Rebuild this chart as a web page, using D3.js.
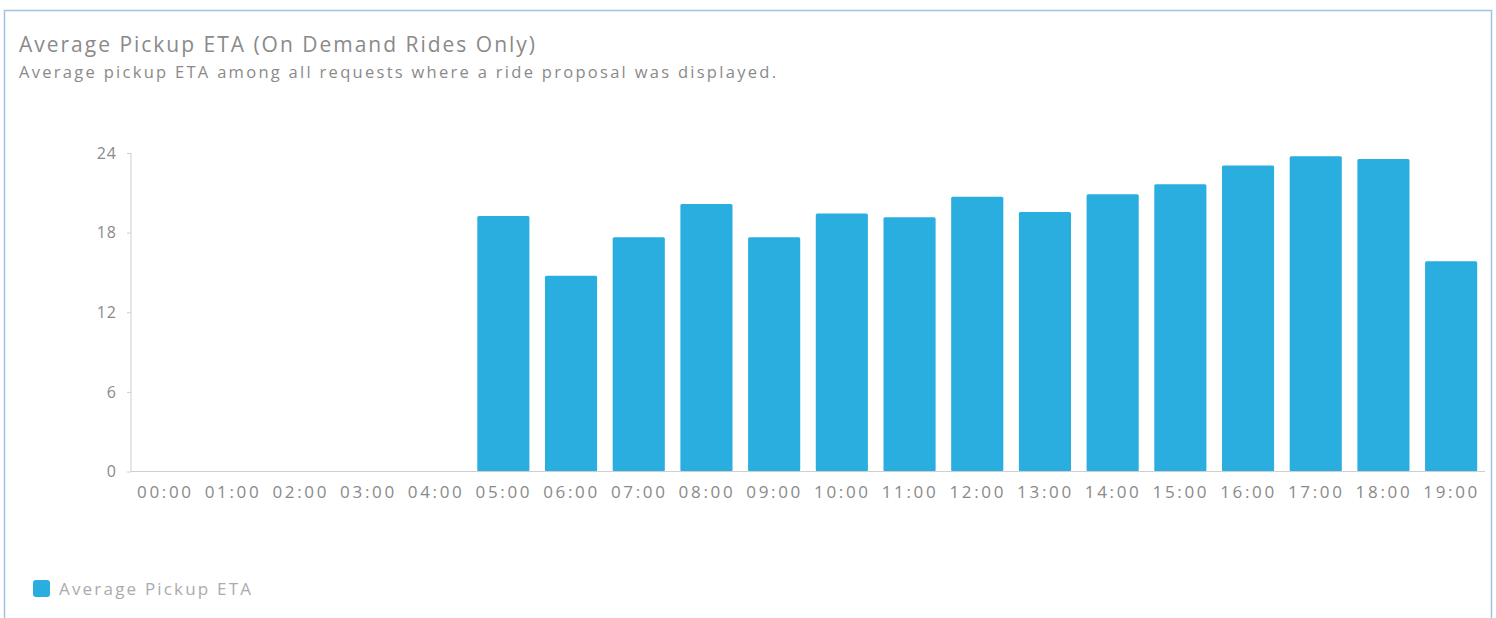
<!DOCTYPE html>
<html>
<head>
<meta charset="utf-8">
<script src="https://cdn.jsdelivr.net/npm/d3@7"></script>
<style>
  body { margin: 0; background: #fff; font-family: "Open Sans", "Noto Sans", sans-serif; }
  .axis text { fill: #8a8a8a; font-size: 17px; font-family: "Open Sans", sans-serif; }
  .axis path, .axis line { stroke: #cfcfcf; }
</style>
</head>
<body>
<script>
// data
const hours = ['00:00', '01:00', '02:00', '03:00', '04:00', '05:00', '06:00', '07:00', '08:00', '09:00',
               '10:00', '11:00', '12:00', '13:00', '14:00', '15:00', '16:00', '17:00', '18:00', '19:00'];
const etaValues = [0, 0, 0, 0, 0, 19.25, 14.75, 17.65, 20.15, 17.65,
                   19.45, 19.15, 20.7, 19.55, 20.9, 21.65, 23.05, 23.75, 23.55, 15.85];
const yTicks = [0, 6, 12, 18, 24];
const seriesName = 'Average Pickup ETA';

const width = 1496, height = 618;
const barColor = '#2aaee0';

// spread the letters of a text so it covers a given width (the original font is wide)
function spreadTo(sel, target) {
    sel.each(function() {
        const n = this.textContent.length;
        const w = this.getComputedTextLength();
        if (n > 1) d3.select(this).style('letter-spacing', ((target - w) / (n - 1)) + 'px');
    });
}

const svg = d3.select('body').append('svg')
    .attr('width', width)
    .attr('height', height);

// card border
svg.append('rect')
    .attr('x', 4.5).attr('y', 10.5)
    .attr('width', 1487).attr('height', 620)
    .attr('fill', 'none')
    .attr('stroke', '#9fc3e0')
    .attr('stroke-width', 1.5);

svg.append('text')
    .attr('x', 19).attr('y', 52)
    .attr('fill', '#8a8a8a')
    .style('font-size', '21px')
    .text('Average Pickup ETA (On Demand Rides Only)')
    .call(spreadTo, 516);

svg.append('text')
    .attr('x', 19).attr('y', 78)
    .attr('fill', '#8a8a8a')
    .style('font-size', '16.5px')
    .text('Average pickup ETA among all requests where a ride proposal was displayed.')
    .call(spreadTo, 757);

const x = d3.scaleBand()
    .domain(hours)
    .range([131, 1485])
    .paddingInner(0.23)
    .paddingOuter(0.115);

const y = d3.scaleLinear()
    .domain([0, 24])
    .range([471.5, 153]);

svg.append('g')
    .attr('class', 'axis')
    .attr('transform', 'translate(131,0)')
    .call(d3.axisLeft(y).tickValues(yTicks).tickSize(4).tickPadding(10))
    .call(g => g.select('.domain').attr('d', `M0,${y(24)}V${y(0)}`))
    .call(g => g.selectAll('text').style('font-size', '16px').style('letter-spacing', '1px'));

svg.selectAll('rect.bar')
    .data(etaValues)
    .enter()
  .append('rect')
    .attr('class', 'bar')
    .attr('x', (d, i) => x(hours[i]))
    .attr('y', d => y(d))
    .attr('width', x.bandwidth())
    .attr('height', d => y(0) - y(d))
    .attr('rx', 1.5)
    .attr('fill', barColor);

svg.append('g')
    .attr('class', 'axis')
    .attr('transform', `translate(0,${y(0)})`)
    .call(d3.axisBottom(x).tickSize(0).tickPadding(14))
    .call(g => g.select('.domain').attr('d', `M131,0H1485`))
    .call(g => g.selectAll('text').call(spreadTo, 54).attr('dx', 0.5));

// legend
const legend = svg.append('g').attr('transform', 'translate(33,580)');
legend.append('rect')
    .attr('width', 17).attr('height', 17)
    .attr('rx', 3)
    .attr('fill', barColor);
legend.append('text')
    .attr('x', 26).attr('y', 14.5)
    .attr('fill', '#ababab')
    .style('font-size', '17px')
    .text(seriesName)
    .call(spreadTo, 192);
</script>
</body>
</html>
